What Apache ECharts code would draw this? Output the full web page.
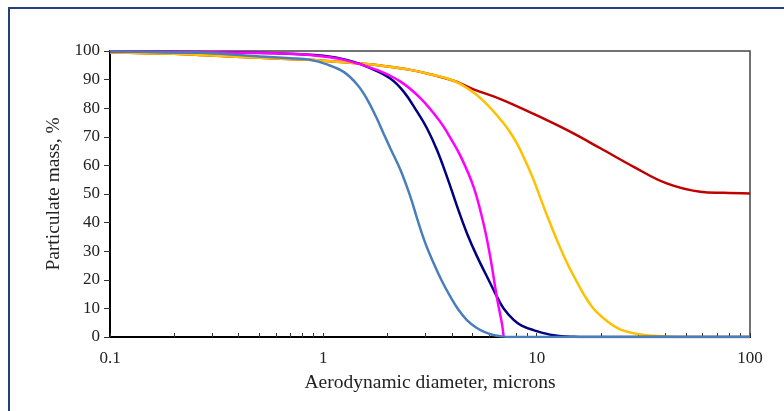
<!DOCTYPE html>
<html>
<head>
<meta charset="utf-8">
<script src="https://cdn.jsdelivr.net/npm/echarts@6/dist/echarts.min.js"></script>
<style>
  html, body { margin: 0; padding: 0; background: #fff; }
  #chart { width: 784px; height: 411px; }
</style>
</head>
<body>
<div id="chart"></div>
<script>
// diameters (microns) and particulate mass (%)
const redDiam = [0.1, 0.2, 0.3, 0.5, 0.8, 1.0, 1.5, 2.0, 2.56, 3.2, 4.08, 4.6, 5.06, 6.77, 9.67, 13.9, 19.9, 28.5, 40.7, 58.4, 75, 100];
const redMass = [99.5, 99, 98.4, 97.6, 97, 96.6, 95.6, 94.6, 93.4, 91.8, 89.6, 88, 86.6, 83.2, 78, 72.3, 66, 59.5, 53.7, 50.8, 50.4, 50.2];

const orangeDiam = [0.1, 0.2, 0.3, 0.5, 0.8, 1.0, 1.5, 2.0, 2.56, 3.2, 4.08, 5.06, 6.0, 6.77, 7.4, 8.1, 8.8, 9.67, 10.6, 11.6, 12.7, 13.9, 15.2, 16.6, 18.2, 19.9, 23.8, 28.5, 35, 45, 100];
const orangeMass = [99.5, 99, 98.4, 97.6, 97, 96.6, 95.6, 94.6, 93.4, 91.8, 89.6, 85.5, 80.5, 76, 72.3, 67.5, 62, 55, 47, 39.5, 32.3, 25.8, 20.2, 15, 10.5, 7.5, 3.2, 1.3, 0.4, 0, 0];

const navyDiam = [0.1, 0.3, 0.6, 1.0, 1.3, 1.66, 2.06, 2.38, 2.75, 3.06, 3.41, 3.8, 4.24, 4.71, 5.26, 6.06, 6.52, 7.0, 7.8, 8.5, 9.67, 12, 15, 20, 100];
const navyMass = [99.8, 99.6, 99.2, 98.3, 96.8, 94, 90.4, 85.8, 78.8, 73, 65.4, 56, 45.6, 36.3, 28.1, 18.8, 14, 10, 6, 4, 2.4, 0.6, 0.1, 0, 0];

const magentaDiam = [0.1, 0.3, 0.6, 0.87, 1.25, 1.78, 2.3, 2.85, 3.53, 3.87, 4.38, 5.06, 5.64, 6.06, 6.52, 6.88, 7.0];
const magentaMass = [99.8, 99.6, 99.2, 98.6, 96.9, 93.4, 89.3, 83.5, 75.3, 70.6, 63.5, 52.5, 39.5, 28, 13.5, 4.5, 0];

const blueDiam = [0.1, 0.2, 0.3, 0.5, 0.7, 0.87, 1.04, 1.25, 1.44, 1.6, 1.78, 1.92, 2.06, 2.3, 2.56, 2.75, 3.0, 3.29, 3.6, 3.94, 4.3, 4.71, 5.2, 5.64, 6.2, 6.77, 7.5, 10, 20, 50, 100];
const blueMass = [99.8, 99.5, 99.2, 98.1, 97.5, 96.9, 95.3, 92.6, 88.3, 83.3, 76.5, 71, 66, 58.4, 49, 41.5, 33, 25.8, 19.5, 14.1, 9.5, 5.9, 3.3, 1.9, 0.8, 0.3, 0, 0, 0, 0, 0];

const xTicks = [0.1, 0.2, 0.3, 0.4, 0.5, 0.6, 0.7, 0.8, 0.9, 1, 2, 3, 4, 5, 6, 7, 8, 9, 10, 20, 30, 40, 50, 60, 70, 80, 90, 100];

const pairs = (xs, ys) => xs.map((x, i) => [x, ys[i]]);
const font = '"Liberation Serif", "Times New Roman", serif';

const chart = echarts.init(document.getElementById('chart'));

const line = (data, color) => ({
  type: 'line',
  data: data,
  symbol: 'none',
  smooth: 0.4,
  lineStyle: { color: color, width: 2.5 },
  itemStyle: { color: color }
});

chart.setOption({
  animation: false,
  graphic: [{
    type: 'rect',
    shape: { x: 9, y: 8, width: 900, height: 500 },
    style: { fill: 'none', stroke: '#24407a', lineWidth: 2 }
  }],
  grid: {
    left: 110,
    right: 34,
    top: 51,
    bottom: 74,
    show: true,
    borderColor: '#444',
    borderWidth: 1.5
  },
  xAxis: {
    type: 'log',
    logBase: 10,
    min: 0.1,
    max: 100,
    name: 'Aerodynamic diameter, microns',
    nameLocation: 'middle',
    nameGap: 36,
    nameTextStyle: { fontFamily: font, fontSize: 19.5, color: '#222' },
    axisLine: { lineStyle: { color: '#000', width: 2 } },
    axisTick: { inside: true, length: 4, customValues: xTicks, lineStyle: { color: '#333' } },
    axisLabel: {
      margin: 13,
      fontFamily: font,
      fontSize: 17,
      color: '#222',
      formatter: v => String(+v.toPrecision(3))
    },
    splitLine: { show: false },
    minorTick: { show: false }
  },
  yAxis: {
    type: 'value',
    min: 0,
    max: 100,
    interval: 10,
    name: 'Particulate mass, %',
    nameLocation: 'middle',
    nameGap: 45,
    nameTextStyle: { fontFamily: font, fontSize: 19.5, color: '#222' },
    axisLine: { show: true, lineStyle: { color: '#000', width: 2 } },
    axisTick: { show: true, length: 6, lineStyle: { color: '#333' } },
    axisLabel: { margin: 10, fontFamily: font, fontSize: 17, color: '#222' },
    splitLine: { show: false }
  },
  series: [
    line(pairs(redDiam, redMass), '#c00000'),
    line(pairs(orangeDiam, orangeMass), '#ffc000'),
    line(pairs(navyDiam, navyMass), '#000080'),
    line(pairs(magentaDiam, magentaMass), '#ff00ff'),
    line(pairs(blueDiam, blueMass), '#4a7ebb')
  ]
});
</script>
</body>
</html>
